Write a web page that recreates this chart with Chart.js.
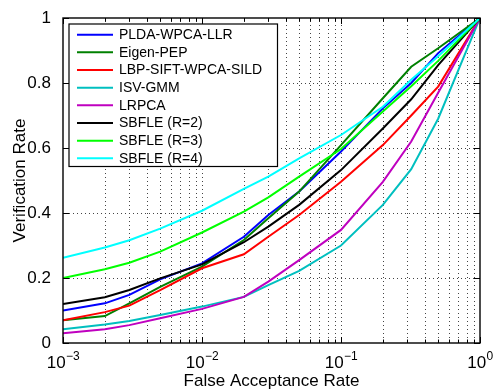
<!DOCTYPE html>
<html><head><meta charset="utf-8">
<script src="https://cdn.jsdelivr.net/npm/chart.js@4/dist/chart.umd.min.js"></script>
<style>html,body{margin:0;padding:0;background:#fff}canvas{display:block}</style>
</head><body>
<canvas id="c" width="493" height="390"></canvas>
<script>
// ---- data ----
const far = [0.001, 0.002, 0.003, 0.005, 0.01, 0.02, 0.03, 0.05, 0.1, 0.2, 0.32, 0.5, 1];
const seriesLabels = ['PLDA-WPCA-LLR', 'Eigen-PEP', 'LBP-SIFT-WPCA-SILD', 'ISV-GMM', 'LRPCA', 'SBFLE (R=2)', 'SBFLE (R=3)', 'SBFLE (R=4)'];
const seriesColors = ['#0000ff', '#008000', '#ff0000', '#00bfbf', '#bf00bf', '#000000', '#00ff00', '#00ffff'];
const pldaWpcaLlr     = [0.100, 0.122, 0.148, 0.196, 0.245, 0.327, 0.394, 0.466, 0.589, 0.722, 0.800, 0.892, 1];
const eigenPep        = [0.070, 0.083, 0.122, 0.173, 0.235, 0.317, 0.384, 0.466, 0.609, 0.753, 0.850, 0.907, 1];
const lbpSiftWpcaSild = [0.070, 0.095, 0.115, 0.163, 0.230, 0.273, 0.327, 0.394, 0.496, 0.609, 0.700, 0.789, 1];
const isvGmm          = [0.042, 0.057, 0.068, 0.086, 0.112, 0.142, 0.178, 0.222, 0.300, 0.425, 0.535, 0.690, 1];
const lrpca           = [0.030, 0.042, 0.055, 0.076, 0.105, 0.142, 0.189, 0.255, 0.348, 0.496, 0.620, 0.770, 1];
const sbfleR2         = [0.120, 0.141, 0.163, 0.199, 0.242, 0.310, 0.358, 0.425, 0.532, 0.660, 0.750, 0.855, 1];
const sbfleR3         = [0.200, 0.227, 0.247, 0.281, 0.340, 0.404, 0.448, 0.512, 0.597, 0.712, 0.790, 0.868, 1];
const sbfleR4         = [0.262, 0.294, 0.316, 0.352, 0.407, 0.474, 0.512, 0.568, 0.640, 0.727, 0.810, 0.882, 1];
const seriesValues = [pldaWpcaLlr, eigenPep, lbpSiftWpcaSild, isvGmm, lrpca, sbfleR2, sbfleR3, sbfleR4];

const xTickValues = [0.001, 0.01, 0.1, 1];
const xTickExponents = ['\u22123', '\u22122', '\u22121', '0'];
const yTickLabels = ['0', '0.2', '0.4', '0.6', '0.8', '1'];
const xTitle = 'False Acceptance Rate';
const yTitle = 'Verification Rate';

const FONT = '"Liberation Sans", Arial, Helvetica, sans-serif';

// log grid positions (1..9 x each decade)
const xGridValues = [];
for (let e = -3; e < 0; e++) for (let m = 1; m <= 9; m++) xGridValues.push(Number((m * Math.pow(10, e)).toPrecision(6)));
xGridValues.push(1);
const yGridValues = [0, 0.2, 0.4, 0.6, 0.8, 1];
const isDecade = v => Math.abs(Math.log10(v) - Math.round(Math.log10(v))) < 1e-6;

const datasets = seriesLabels.map((lab, i) => ({
  label: lab,
  data: far.map((f, j) => ({x: f, y: seriesValues[i][j]})),
  borderColor: seriesColors[i],
  backgroundColor: seriesColors[i],
  borderWidth: 2,
  pointRadius: 0,
  tension: 0,
  fill: false,
  order: seriesLabels.length - i
}));

function dotLineV(ctx, px, y0, y1) {
  for (let yy = y1; yy >= y0; yy -= 4) ctx.fillRect(px, yy, 1, 1);
}
function dotLineH(ctx, py, x0, x1) {
  for (let xx = x0; xx <= x1; xx += 4) ctx.fillRect(xx, py, 1, 1);
}

const gridPlugin = {
  id: 'dotgrid',
  beforeDatasetsDraw(chart) {
    const {ctx, chartArea: a, scales: {x, y}} = chart;
    ctx.save();
    ctx.fillStyle = '#444';
    xGridValues.forEach(v => {
      const px = Math.round(x.getPixelForValue(v));
      if (px <= a.left + 1 || px >= a.right - 1) return;
      dotLineV(ctx, px, Math.round(a.top) + 2, Math.round(a.bottom) - 2);
    });
    yGridValues.forEach(v => {
      const py = Math.round(y.getPixelForValue(v));
      if (py <= a.top + 1 || py >= a.bottom - 1) return;
      dotLineH(ctx, py, Math.round(a.left) + 2, Math.round(a.right) - 2);
    });
    ctx.restore();
  }
};

const framePlugin = {
  id: 'frame',
  afterDatasetsDraw(chart) {
    const {ctx, chartArea: a, scales: {x, y}} = chart;
    ctx.save();
    // inward ticks
    ctx.strokeStyle = '#000';
    ctx.lineWidth = 1;
    ctx.beginPath();
    xGridValues.forEach(v => {
      const px = Math.round(x.getPixelForValue(v)) + 0.5;
      const L = isDecade(v) ? 6 : 3.5;
      ctx.moveTo(px, a.bottom); ctx.lineTo(px, a.bottom - L);
      ctx.moveTo(px, a.top); ctx.lineTo(px, a.top + L);
    });
    yGridValues.forEach(v => {
      const py = Math.round(y.getPixelForValue(v)) + 0.5;
      ctx.moveTo(a.left, py); ctx.lineTo(a.left + 6, py);
      ctx.moveTo(a.right, py); ctx.lineTo(a.right - 6, py);
    });
    ctx.stroke();
    // frame
    ctx.lineWidth = 1.4;
    ctx.strokeRect(a.left, a.top, a.right - a.left, a.bottom - a.top);

    // x tick labels 10^n
    ctx.fillStyle = '#000';
    ctx.textBaseline = 'alphabetic';
    ctx.textAlign = 'left';
    xTickValues.forEach((v, i) => {
      const px = x.getPixelForValue(v);
      ctx.font = '17px ' + FONT;
      const wb = ctx.measureText('10').width;
      ctx.font = '12px ' + FONT;
      const we = ctx.measureText(xTickExponents[i]).width;
      const start = px - (wb + we) / 2;
      ctx.font = '17px ' + FONT;
      ctx.fillText('10', start, 368);
      ctx.font = '12px ' + FONT;
      ctx.fillText(xTickExponents[i], start + wb + 0.5, 360);
    });

    // legend box
    const lx = 69, ly = 24, lw = 208.5, lh = 142.5;
    ctx.fillStyle = '#fff';
    ctx.fillRect(lx, ly, lw, lh);
    ctx.lineWidth = 1.2;
    ctx.strokeStyle = '#000';
    ctx.strokeRect(lx, ly, lw, lh);
    ctx.font = '14px ' + FONT;
    ctx.textBaseline = 'middle';
    seriesLabels.forEach((lab, i) => {
      const cy = 34.7 + i * 17.66;
      ctx.strokeStyle = seriesColors[i];
      ctx.lineWidth = 2;
      ctx.beginPath();
      ctx.moveTo(77, cy); ctx.lineTo(113, cy);
      ctx.stroke();
      ctx.fillStyle = '#000';
      ctx.fillText(lab, 119, cy + 0.5);
    });
    ctx.restore();
  }
};

new Chart(document.getElementById('c'), {
  type: 'line',
  data: {datasets},
  plugins: [gridPlugin, framePlugin],
  options: {
    responsive: false,
    animation: false,
    devicePixelRatio: 1,
    layout: {padding: {top: 18, right: 13, left: 0, bottom: 0}},
    plugins: {legend: {display: false}, tooltip: {enabled: false}},
    scales: {
      x: {
        type: 'logarithmic',
        min: 0.001, max: 1,
        afterBuildTicks: s => { s.ticks = xGridValues.map(v => ({value: v})); },
        afterFit: s => { s.height = 47; },
        ticks: {display: false},
        grid: {display: false},
        border: {display: false},
        title: {display: true, text: xTitle, color: '#000', font: {family: FONT, size: 17, lineHeight: 1}, padding: {top: 0, bottom: 0}}
      },
      y: {
        type: 'linear',
        min: 0, max: 1,
        afterFit: s => { s.width = 63; },
        ticks: {stepSize: 0.2, padding: 4, color: '#000', font: {family: FONT, size: 17},
                callback: (v, i) => yTickLabels[i]},
        grid: {display: false},
        border: {display: false},
        title: {display: true, text: yTitle, color: '#000', font: {family: FONT, size: 17, lineHeight: 1}, padding: {top: 11.5, bottom: 0}}
      }
    }
  }
});
</script>
</body></html>
